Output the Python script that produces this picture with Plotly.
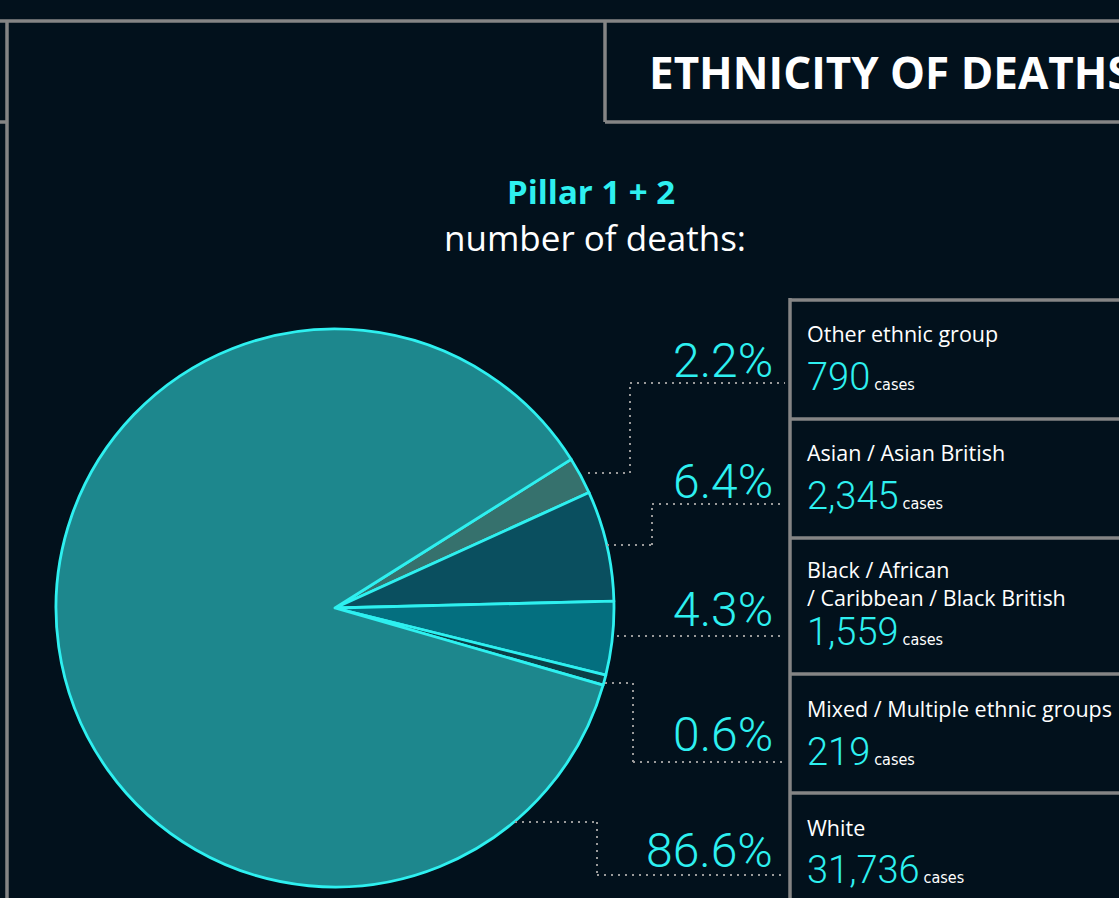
import plotly.graph_objects as go

# ---- data ----
categories = ["Other ethnic group", "Asian / Asian British",
              "Black / African<br>/ Caribbean / Black British",
              "Mixed / Multiple ethnic groups", "White"]
cases = [790, 2345, 1559, 219, 31736]
case_labels = ["790", "2,345", "1,559", "219", "31,736"]
pct_labels = ["2.2%", "6.4%", "4.3%", "0.6%", "86.6%"]
slice_colors = ["#36716d", "#0a4f5f", "#046f7f", "#0b3f47", "#1d878d"]

W, H = 1119, 898
BG = "#02111c"
CYAN = "#2ef0f0"
GRAY = "#858585"
DOT = "#9a9a9a"


def px(x):
    return x / W


def py(y):
    return 1 - y / H


fig = go.Figure()

# pie: centre (335, 608), radius ~279
cx, cy, r = 335, 608, 279
fig.add_trace(go.Pie(
    labels=[c.replace("<br>", " ") for c in categories],
    values=cases,
    sort=False,
    direction="clockwise",
    rotation=57.8,
    marker=dict(colors=slice_colors, line=dict(color=CYAN, width=2.8)),
    textinfo="none",
    hoverinfo="label+value+percent",
    showlegend=False,
    domain=dict(x=[px(cx - r), px(cx + r)], y=[py(cy + r), py(cy - r)]),
))

shapes = []


def hline(x0, x1, y, color=GRAY, width=3.5, dash=None):
    shapes.append(dict(type="line", xref="paper", yref="paper",
                       x0=px(x0), x1=px(x1), y0=py(y), y1=py(y),
                       line=dict(color=color, width=width, dash=dash)))


def vline(x, y0, y1, color=GRAY, width=3.5, dash=None):
    shapes.append(dict(type="line", xref="paper", yref="paper",
                       x0=px(x), x1=px(x), y0=py(y0), y1=py(y1),
                       line=dict(color=color, width=width, dash=dash)))


# frame lines
hline(0, W, 21)
vline(7, 21, H)
hline(0, 7, 122)
vline(605, 21, 122)
hline(605, W, 122)

# right panels
vline(790, 298, H)
for yy in [300, 419, 538, 674, 793]:
    hline(790, W, yy)

# dotted connectors
dd = dict(color=DOT, width=2, dash="2px,5px")
connectors = [
    [(588, 473), (630, 473), (630, 383), (785, 383)],
    [(607, 545), (652, 545), (652, 504), (785, 504)],
    [(617, 636), (785, 636)],
    [(605, 683), (633, 683), (633, 762), (785, 762)],
    [(515, 822), (597, 822), (597, 875), (785, 875)],
]
for pts in connectors:
    for (xa, ya), (xb, yb) in zip(pts[:-1], pts[1:]):
        shapes.append(dict(type="line", xref="paper", yref="paper",
                           x0=px(xa), x1=px(xb), y0=py(ya), y1=py(yb),
                           line=dd))

annotations = []


def text(x, y, s, size, color="white", family="Open Sans", xanchor="left",
         yanchor="middle", align="left", weight=None):
    f = dict(size=size, color=color, family=family)
    if weight:
        f["weight"] = weight
    annotations.append(dict(xref="paper", yref="paper", x=px(x), y=py(y),
                            text=s, showarrow=False, xanchor=xanchor,
                            yanchor=yanchor, align=align, font=f))


text(647, 72, "<b>ETHNICITY OF DEATHS</b>", 44)
text(591, 192, "<b>Pillar 1 + 2</b>", 33, color=CYAN, xanchor="center")
text(595, 238, "number of deaths:", 35, xanchor="center")

pct_y = [361, 481, 609, 734, 850]
name_y = [333, 452, 583, 708, 827]
num_y = [377, 496, 632, 752, 870]
for i in range(len(categories)):
    text(775, pct_y[i], pct_labels[i], 48, color=CYAN, family="Roboto",
         xanchor="right", weight=300)
    text(805, name_y[i], categories[i], 21.5)
    text(805, num_y[i],
         f"<span style='font-size:38px;color:{CYAN}'>{case_labels[i]}</span>"
         f" <span style='font-size:16px;font-family:DejaVu Sans Condensed,"
         f"Roboto;font-weight:400'>cases</span>", 16, family="Roboto",
         weight=300)

fig.update_layout(
    width=W, height=H, autosize=False,
    margin=dict(l=0, r=0, t=0, b=0),
    paper_bgcolor=BG, plot_bgcolor=BG,
    shapes=shapes, annotations=annotations,
)

fig.write_html("out.html",
               config={"displayModeBar": False},
               post_script="document.body.style.margin='0';"
                           "document.body.style.background='#02111c';")
